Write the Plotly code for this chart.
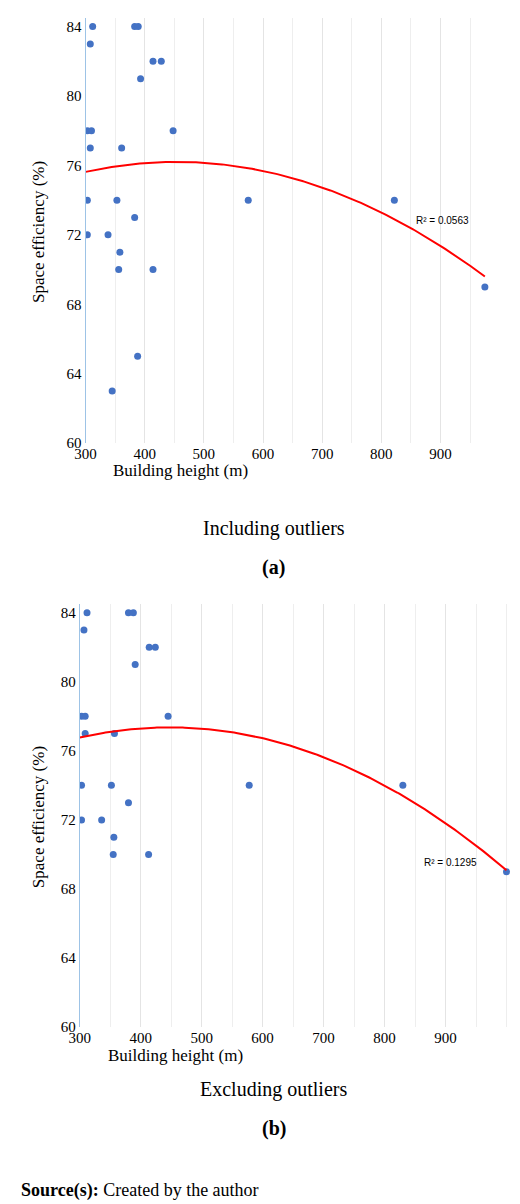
import numpy as np
import plotly.graph_objects as go

height_a = [312,383,389,308,414,428,393,303,310,448,308,361,303,353,575,822,383,303,338,358,356,414,975,388,345]
eff_a    = [84,84,84,83,82,82,81,78,78,78,77,77,74,74,74,74,73,72,72,71,70,70,69,65,63]
height_b = [312,380,388,307,414,424,391,303,309,445,309,357,303,352,578,830,380,303,336,356,355,413,1000]
eff_b    = [84,84,84,83,82,82,81,78,78,78,77,77,74,74,74,74,73,72,72,71,70,70,69]
y_ticks = [60,64,68,72,76,80,84]
x_ticks = [300,400,500,600,700,800,900]

W, H = 520, 1204
fig = go.Figure()
def px2y(p): return 1 - p / H

panels = [
    (height_a, eff_a, "x", "y", (68, 485), (10, 438), [300, 990], "R² = 0.0563", (462, 206)),
    (height_b, eff_b, "x2", "y2", (62, 513), (600, 1026), [300, 1024], "R² = 0.1295", (470, 868)),
]
for hx, ey, xa, ya, (xl, xr), (yt, yb), xr_rng, rlab, rpos in panels:
    fig.add_trace(go.Scatter(x=hx, y=ey, mode="markers", xaxis=xa, yaxis=ya,
                             marker=dict(color="#4472C4", size=7), showlegend=False))
    c = np.polyfit(hx, ey, 2)
    xs = np.linspace(300, max(hx), 200)
    fig.add_trace(go.Scatter(x=xs, y=np.polyval(c, xs), mode="lines", xaxis=xa, yaxis=ya,
                             line=dict(color="red", width=2), showlegend=False))
    key = "" if xa == "x" else "2"
    fig.layout["xaxis" + key] = dict(domain=[xl / W, xr / W], range=xr_rng, tickvals=x_ticks,
        showgrid=True, gridcolor="#e4e4e4", zeroline=False, showline=False,
        tickfont=dict(family="Liberation Serif", size=15, color="black"), ticklen=0,
        anchor="y" + key, minor=dict(dtick=50, showgrid=True, gridcolor="#eeeeee"))
    fig.layout["yaxis" + key] = dict(domain=[px2y(yb), px2y(yt)], range=[60, 84.5], tickvals=y_ticks,
        showgrid=False, zeroline=False, showline=True, linecolor="#9dc3e6",
        tickfont=dict(family="Liberation Serif", size=15, color="black"), anchor="x" + key)
    fig.add_annotation(x=rpos[0] / W, y=px2y(rpos[1]), xref="paper", yref="paper", text=rlab,
                       showarrow=False, font=dict(family="Liberation Sans", size=10, color="black"))

def txt(x, y, t, size=18, anchor="center", angle=0):
    fig.add_annotation(x=x / W, y=px2y(y), xref="paper", yref="paper", text=t, showarrow=False,
                       xanchor=anchor, yanchor="middle", textangle=angle,
                       font=dict(family="Liberation Serif", size=size, color="black"))

txt(20, 226, "Space efficiency (%)", 17, angle=-90)
txt(165, 466, "Building height (m)", 17)
txt(260, 524, "Including outliers", 20)
txt(260, 563, "<b>(a)</b>", 20)
txt(20, 815, "Space efficiency (%)", 17, angle=-90)
txt(160, 1055, "Building height (m)", 17)
txt(260, 1089, "Excluding outliers", 20)
txt(260, 1128, "<b>(b)</b>", 20)
txt(0, 1190, "<b>Source(s):</b> Created by the author", 18, anchor="left")

fig.update_layout(width=W, height=H, margin=dict(l=0, r=0, t=0, b=0),
                  plot_bgcolor="white", paper_bgcolor="white")
fig.write_html("out.html")
